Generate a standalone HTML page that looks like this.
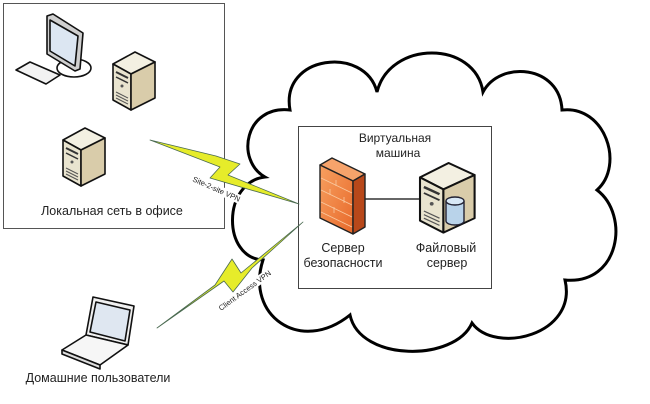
<!DOCTYPE html>
<html><head><meta charset="utf-8"><style>
html,body{margin:0;padding:0;background:#fff;}
svg{display:block;}
text{font-family:"Liberation Sans","DejaVu Sans",sans-serif;fill:#222;}
</style></head><body>
<svg width="650" height="404" viewBox="0 0 650 404" xmlns="http://www.w3.org/2000/svg">
<defs>
<linearGradient id="fw" x1="0" y1="0" x2="1" y2="1"><stop offset="0" stop-color="#f7a060"/><stop offset="1" stop-color="#e8692a"/></linearGradient>
<g id="srv">
<polygon points="0,12 22,0 42,10 18,22" fill="#f3f0e2" stroke="#111" stroke-width="1.6" stroke-linejoin="round"/>
<polygon points="0,12 18,22 18,58 0,48" fill="#e9e4cf" stroke="#111" stroke-width="1.6" stroke-linejoin="round"/>
<polygon points="18,22 42,10 42,46 18,58" fill="#d9ccaa" stroke="#111" stroke-width="1.6" stroke-linejoin="round"/>
<line x1="3" y1="20" x2="15" y2="26" stroke="#333" stroke-width="2"/>
<line x1="3" y1="25" x2="15" y2="31" stroke="#333" stroke-width="1.5"/>
<circle cx="9" cy="34" r="1.5" fill="#555"/>
<line x1="3" y1="40" x2="15" y2="46" stroke="#555"/>
<line x1="3" y1="43" x2="15" y2="49" stroke="#555"/>
<line x1="3" y1="46" x2="15" y2="52" stroke="#555"/>
</g>
</defs>

<rect x="3.5" y="3.5" width="221" height="225" fill="none" stroke="#555" stroke-width="1"/>

<!-- monitor -->
<g stroke="#111" stroke-width="1.6" stroke-linejoin="round">
<ellipse cx="74" cy="68" rx="17" ry="9" fill="#fff"/>
<polygon points="47,16 53,14 83,33 80,69 75,71 47,54" fill="#cfcfcf"/>
<polygon points="50,20 78,36 75,66 50,51" fill="#dce6f2"/>
<polygon points="16,70 30,62 60,75 46,84" fill="#f2f2f2"/>
</g>

<use href="#srv" x="113" y="52"/>
<use href="#srv" x="63" y="128"/>

<text x="112" y="215" font-size="12.5" text-anchor="middle">Локальная сеть в офисе</text>

<!-- cloud -->
<path d="M290,110 C280,55 365,45 377,92 C390,40 475,40 483,92 C500,60 560,65 562,110 C605,105 625,165 597,190 C630,215 620,285 565,280 C578,335 495,355 472,323 C455,362 360,362 350,315 C300,355 245,315 263,260 C222,258 222,182 265,177 C235,160 245,105 290,110 Z" fill="#fff" stroke="#000" stroke-width="3"/>

<rect x="298.5" y="126.5" width="193" height="162" fill="#fff" stroke="#444" stroke-width="1"/>
<text x="395" y="142" font-size="12" text-anchor="middle">Виртуальная</text>
<text x="398" y="157" font-size="12" text-anchor="middle">машина</text>

<line x1="365" y1="199" x2="420" y2="199" stroke="#666" stroke-width="2"/>

<g stroke="#222" stroke-width="1.4" stroke-linejoin="round">
<polygon points="320,165 332,158 365,174 353,181" fill="#f6a36b"/>
<polygon points="320,165 353,181 353,234 320,218" fill="url(#fw)"/>
<polygon points="353,181 365,174 365,227 353,234" fill="#b8481a"/>
</g>
<g stroke="#f9c9a0" stroke-width="0.8">
<line x1="321" y1="178" x2="352" y2="193"/><line x1="321" y1="190" x2="352" y2="205"/><line x1="321" y1="202" x2="352" y2="217"/><line x1="321" y1="212" x2="352" y2="227"/>
<line x1="336" y1="180" x2="336" y2="186"/><line x1="330" y1="189" x2="330" y2="195"/><line x1="344" y1="197" x2="344" y2="203"/><line x1="334" y1="207" x2="334" y2="213"/>
</g>

<use href="#srv" transform="translate(420,163) scale(1.3,1.2)"/>
<g stroke="#223" stroke-width="1.4">
<path d="M446,201 v20 a9,4 0 0 0 18,0 v-20" fill="#b9d3ea"/>
<ellipse cx="455" cy="201" rx="9" ry="4" fill="#d8e8f6"/>
</g>

<text x="343" y="252" font-size="12.5" text-anchor="middle">Сервер</text>
<text x="343" y="267" font-size="12.5" text-anchor="middle">безопасности</text>
<text x="446" y="252" font-size="12.5" text-anchor="middle">Файловый</text>
<text x="447" y="267" font-size="12.5" text-anchor="middle">сервер</text>

<!-- bolts -->
<polygon points="150,140 216,156 240,164 228,175 299,204 210,178 220,167" fill="#e6ec2a" stroke="#4a6a50" stroke-width="0.8" stroke-linejoin="round"/>
<polygon points="157,328 215,285 232,259 241,273 303,222 252,268 233,292 224,281" fill="#e6ec2a" stroke="#4a6a50" stroke-width="0.8" stroke-linejoin="round"/>
<g transform="translate(192,181) rotate(24)"><rect x="-1" y="-7" width="62" height="9" fill="#fff"/><text x="0" y="0" font-size="7.5">Site-2-site VPN</text></g>
<g transform="translate(221,311) rotate(-36)"><rect x="-1" y="-7" width="66" height="9" fill="#fff"/><text x="0" y="0" font-size="7.5">Client Access VPN</text></g>

<g stroke="#111" stroke-width="1.6" stroke-linejoin="round">
<polygon points="93,297 134,306 128,345 86,335" fill="#f0f0f0"/>
<polygon points="96,302 130,310 125,341 90,332" fill="#dfe7f1"/>
<polygon points="86,335 128,345 100,365 62,350" fill="#f6f6f6"/>
<polygon points="62,350 100,365 100,369 62,354" fill="#ddd"/>
</g>
<text x="98" y="382" font-size="12.5" text-anchor="middle">Домашние пользователи</text>
</svg>
</body></html>
